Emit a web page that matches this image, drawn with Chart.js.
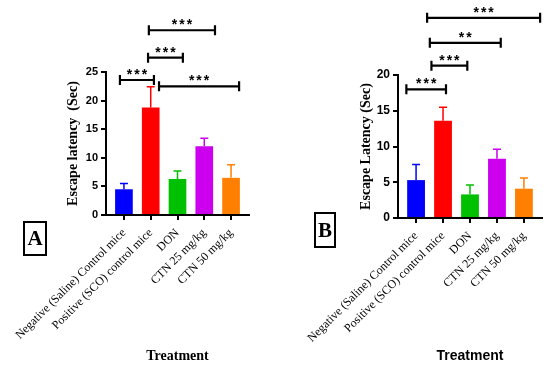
<!DOCTYPE html>
<html>
<head>
<meta charset="utf-8">
<script src="https://cdn.jsdelivr.net/npm/chart.js@4/dist/chart.umd.min.js"></script>
<style>
  body { margin: 0; background: #fff; }
  #wrap { position: relative; width: 550px; height: 366px; overflow: hidden; }
  .panel { position: absolute; top: 0; width: 275px; height: 366px; }
  .tag {
    position: absolute; box-sizing: border-box; border: 2px solid #000;
    font: bold 21px "Liberation Serif", serif; color: #000;
    display: flex; align-items: center; justify-content: center;
  }
</style>
</head>
<body>
<div id="wrap">
  <div class="panel" style="left:0"><canvas id="chartA" width="275" height="366"></canvas></div>
  <div class="panel" style="left:275px"><canvas id="chartB" width="275" height="366"></canvas></div>
  <div class="tag" style="left:23px;top:221px;width:24px;height:35px">A</div>
  <div class="tag" style="left:314px;top:212px;width:22px;height:36px">B</div>
</div>
<script>
var categories = ['Negative (Saline) Control mice', 'Positive (SCO) control mice', 'DON', 'CTN 25 mg/kg', 'CTN 50 mg/kg'];

// panel A
var meanA = [4.5, 18.8, 6.3, 12.0, 6.5];
var semA = [1.0, 3.6, 1.4, 1.4, 2.3];
var yMaxA = 25;
var sigPairsA = [[0, 1], [1, 2], [1, 3], [1, 4]];
var sigLabelsA = ['***', '***', '***', '***'];

// panel B
var meanB = [5.3, 13.6, 3.3, 8.3, 4.1];
var semB = [2.2, 1.9, 1.3, 1.3, 1.5];
var yMaxB = 20;
var sigPairsB = [[0, 1], [1, 2], [1, 3], [1, 4]];
var sigLabelsB = ['***', '***', '**', '***'];

var barColors = ['#0000ff', '#ff0000', '#00c000', '#cc00ee', '#ff8000'];

// where each bracket sits: ends nudged from the bar centres, height in data units
var bracketLayoutA = [
    { d0: -0.15, d1: 0.12, level: 23.6 },
    { d0: -0.10, d1: 0.20, level: 27.5 },
    { d0: -0.07, d1: 0.40, level: 32.3 },
    { d0: 0.31, d1: 0.30, level: 22.5 }
];
var bracketLayoutB = [
    { d0: -0.36, d1: 0.11, level: 18.0 },
    { d0: -0.43, d1: -0.10, level: 21.3 },
    { d0: -0.49, d1: 0.14, level: 24.5 },
    { d0: -0.59, d1: 0.60, level: 28.0 }
];

var sigPlugin = {
    id: 'sig',
    afterDatasetsDraw: function (chart) {
        var ctx = chart.ctx, x = chart.scales.x, y = chart.scales.y;
        var sem = chart.options.plugins.sig.sem;
        var ds = chart.data.datasets[0];
        ctx.save();
        ctx.lineWidth = 1.5;
        ds.data.forEach(function (p, i) {
            var cx = x.getPixelForValue(p.x);
            var y0 = y.getPixelForValue(p.y);
            var y1 = y.getPixelForValue(p.y + sem[i]);
            ctx.strokeStyle = barColors[i];
            ctx.beginPath();
            ctx.moveTo(cx, y0);
            ctx.lineTo(cx, y1);
            ctx.moveTo(cx - 4, y1);
            ctx.lineTo(cx + 4, y1);
            ctx.stroke();
        });
        ctx.restore();
    },
    afterDraw: function (chart) {
        var o = chart.options.plugins.sig;
        var ctx = chart.ctx, x = chart.scales.x, y = chart.scales.y;
        ctx.save();
        ctx.strokeStyle = '#000';
        ctx.fillStyle = '#000';
        ctx.lineWidth = 2.2;
        ctx.font = 'bold 14px "Liberation Sans", Arial, sans-serif';
        ctx.letterSpacing = '2px';
        ctx.textAlign = 'center';
        ctx.textBaseline = 'alphabetic';
        o.pairs.forEach(function (pr, k) {
            var lay = o.layout[k];
            var xa = x.getPixelForValue(pr[0] + lay.d0);
            var xb = x.getPixelForValue(pr[1] + lay.d1);
            var yy = y.getPixelForValue(lay.level);
            ctx.beginPath();
            ctx.moveTo(xa, yy); ctx.lineTo(xb, yy);
            ctx.moveTo(xa, yy - 5); ctx.lineTo(xa, yy + 5);
            ctx.moveTo(xb, yy - 5); ctx.lineTo(xb, yy + 5);
            ctx.stroke();
            ctx.fillText(o.labels[k], (xa + xb) / 2 + 1, yy - 1);
        });
        ctx.restore();
    }
};

function makeChart(id, means, sems, yMax, pairs, labels, layout, cfg) {
    var points = means.map(function (v, i) { return { x: i, y: v }; });
    return new Chart(document.getElementById(id), {
        type: 'bar',
        data: {
            datasets: [{
                data: points,
                backgroundColor: barColors,
                borderWidth: 0,
                barPercentage: 0.66,
                categoryPercentage: 1
            }]
        },
        plugins: [sigPlugin],
        options: {
            responsive: false,
            animation: false,
            layout: { padding: cfg.padding },
            plugins: {
                legend: { display: false },
                tooltip: { enabled: false },
                sig: { sem: sems, pairs: pairs, labels: labels, layout: layout }
            },
            scales: {
                x: {
                    type: 'linear',
                    min: -0.67,
                    max: 4.67,
                    offset: false,
                    afterBuildTicks: function (s) {
                        s.ticks = categories.map(function (c, i) { return { value: i }; });
                    },
                    afterFit: function (s) {
                        s.height = cfg.xHeight;
                        s.paddingLeft = 0;
                        s.paddingRight = 0;
                    },
                    ticks: {
                        autoSkip: false,
                        minRotation: 45,
                        maxRotation: 45,
                        padding: 6,
                        color: '#000',
                        font: { family: '"Liberation Serif", serif', size: 12 },
                        callback: function (v) { return categories[v]; }
                    },
                    grid: { offset: false, drawOnChartArea: false, drawTicks: true, tickLength: 5, color: '#000', lineWidth: 2 },
                    border: { display: true, color: '#000', width: 2 },
                    title: {
                        display: true,
                        text: 'Treatment',
                        color: '#000',
                        padding: { top: 0, bottom: 1 },
                        font: cfg.xTitleFont
                    }
                },
                y: {
                    min: 0,
                    max: yMax,
                    afterFit: function (s) { s.width = cfg.yWidth; },
                    ticks: {
                        stepSize: 5,
                        padding: 3,
                        color: '#000',
                        font: { family: '"Liberation Sans", Arial, sans-serif', size: cfg.yTickSize, weight: 'bold' }
                    },
                    grid: { drawOnChartArea: false, drawTicks: true, tickLength: 5, color: '#000', lineWidth: 2 },
                    border: { display: true, color: '#000', width: 2 },
                    title: {
                        display: true,
                        text: cfg.yTitle,
                        color: '#000',
                        padding: { top: 0, bottom: 0 },
                        font: { family: '"Liberation Serif", serif', size: 14, weight: 'bold' }
                    }
                }
            }
        }
    });
}

makeChart('chartA', meanA, semA, yMaxA, sigPairsA, sigLabelsA, bracketLayoutA, {
    padding: { left: 65, top: 72, right: 26, bottom: 0 },
    yWidth: 41,
    xHeight: 151,
    yTickSize: 11,
    yTitle: 'Escape latency  (Sec)',
    xTitleFont: { family: '"Liberation Serif", serif', size: 14, weight: 'bold' }
});

makeChart('chartB', meanB, semB, yMaxB, sigPairsB, sigLabelsB, bracketLayoutB, {
    padding: { left: 83, top: 75, right: 8, bottom: 0 },
    yWidth: 40,
    xHeight: 148,
    yTickSize: 12,
    yTitle: 'Escape Latency (Sec)',
    xTitleFont: { family: '"Liberation Sans", Arial, sans-serif', size: 14, weight: 'bold' }
});
</script>
</body>
</html>
